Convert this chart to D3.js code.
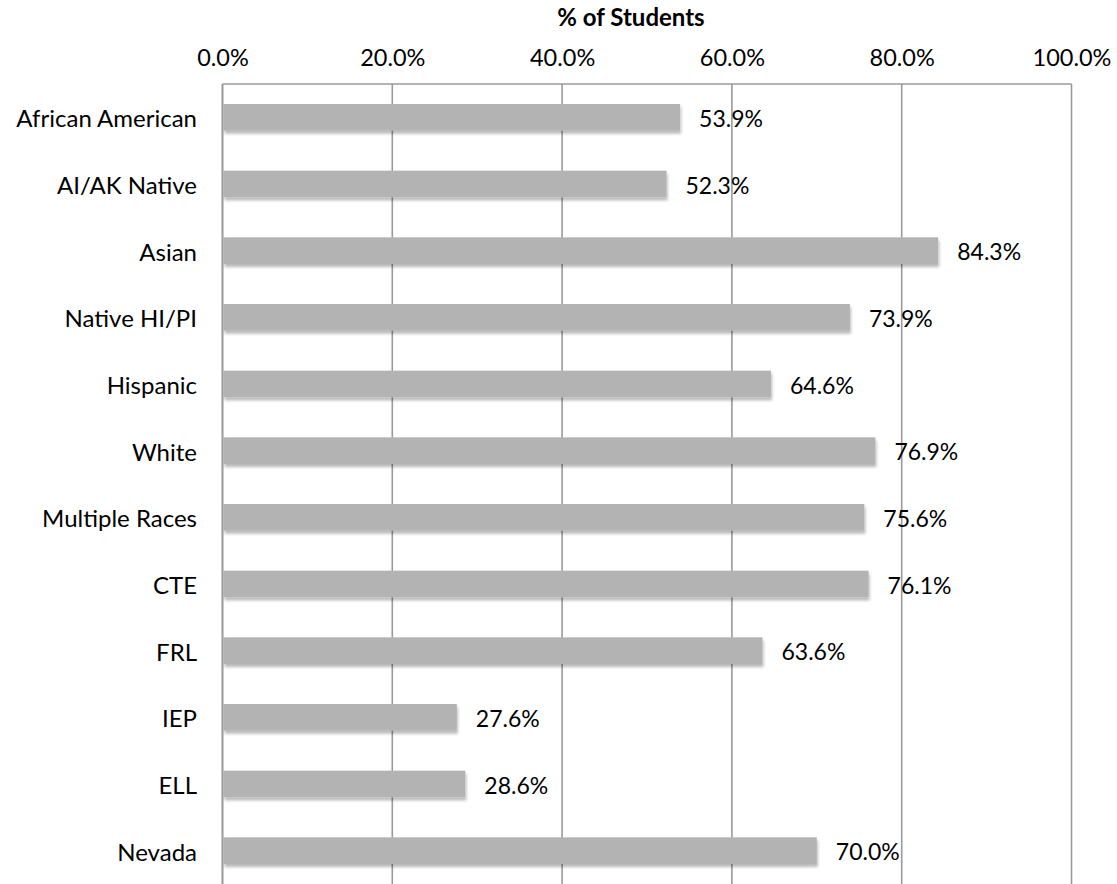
<!DOCTYPE html>
<html>
<head>
<meta charset="utf-8">
<script src="https://cdn.jsdelivr.net/npm/d3@7/dist/d3.min.js"></script>
<style>
  html, body { margin: 0; padding: 0; background: #fff; }
  svg { display: block; }
  text { font-family: Lato, "Noto Sans", sans-serif; fill: #000; }
</style>
</head>
<body>
<div id="chart"></div>
<script>
const categories = ["African American", "AI/AK Native", "Asian", "Native HI/PI", "Hispanic", "White",
  "Multiple Races", "CTE", "FRL", "IEP", "ELL", "Nevada"];
const values = [53.9, 52.3, 84.3, 73.9, 64.6, 76.9, 75.6, 76.1, 63.6, 27.6, 28.6, 70.0];
const tickValues = [0, 20, 40, 60, 80, 100];
const axisTitle = "% of Students";

const W = 1117, H = 884;
const margin = {top: 84, right: 45.5, bottom: 0, left: 222.5};

const svg = d3.select("#chart").append("svg").attr("width", W).attr("height", H);

const defs = svg.append("defs");
const f = defs.append("filter").attr("id", "shadow")
  .attr("x", "-5%").attr("y", "-20%").attr("width", "110%").attr("height", "160%");
f.append("feDropShadow").attr("dx", 1).attr("dy", 3).attr("stdDeviation", 1.8)
  .attr("flood-color", "#000").attr("flood-opacity", 0.28);

const x = d3.scaleLinear().domain([0, 100]).range([margin.left, W - margin.right]);
const y = d3.scaleBand().domain(categories).range([margin.top, H - margin.bottom])
  .paddingInner(0.6).paddingOuter(0.3);

// gridlines
const grid = svg.append("g");
grid.selectAll("line.g").data(tickValues).join("line")
  .attr("x1", d => x(d)).attr("x2", d => x(d))
  .attr("y1", margin.top).attr("y2", H - margin.bottom + 5)
  .attr("stroke", "#9a9a9a").attr("stroke-width", 1.6);
grid.append("line")
  .attr("x1", x(0)).attr("x2", x(100))
  .attr("y1", margin.top).attr("y2", margin.top)
  .attr("stroke", "#9a9a9a").attr("stroke-width", 1.6);

// top axis labels
const axis = d3.axisTop(x).tickValues(tickValues).tickSize(0).tickPadding(18)
  .tickFormat(d => d.toFixed(1) + "%");
const ag = svg.append("g").attr("transform", `translate(0,${margin.top})`).call(axis);
ag.select(".domain").remove();
ag.selectAll("text").style("font-family", "Lato, 'Noto Sans', sans-serif")
  .attr("font-size", 23.5).attr("fill", "#000");

// title
svg.append("text").attr("x", 631).attr("y", 26).attr("text-anchor", "middle")
  .attr("font-size", 24).attr("font-weight", "bold").text(axisTitle);

// bars
svg.append("g").selectAll("rect").data(values).join("rect")
  .attr("x", x(0) + 1)
  .attr("y", (d, i) => y(categories[i]))
  .attr("width", d => x(d) - x(0) - 1)
  .attr("height", y.bandwidth())
  .attr("fill", "#b3b3b3")
  .attr("filter", "url(#shadow)");

// left axis line over bars
svg.append("line").attr("x1", x(0)).attr("x2", x(0))
  .attr("y1", margin.top).attr("y2", H)
  .attr("stroke", "#9a9a9a").attr("stroke-width", 1.6);

// value labels
svg.append("g").selectAll("text").data(values).join("text")
  .attr("x", d => x(d) + 19)
  .attr("y", (d, i) => y(categories[i]) + y.bandwidth() / 2)
  .attr("dy", "0.42em")
  .attr("font-size", 23)
  .text(d => d.toFixed(1) + "%");

// category labels
svg.append("g").selectAll("text").data(categories).join("text")
  .attr("x", 197)
  .attr("y", d => y(d) + y.bandwidth() / 2)
  .attr("dy", "0.42em")
  .attr("text-anchor", "end")
  .attr("font-size", 24)
  .text(d => d);
</script>
</body>
</html>
